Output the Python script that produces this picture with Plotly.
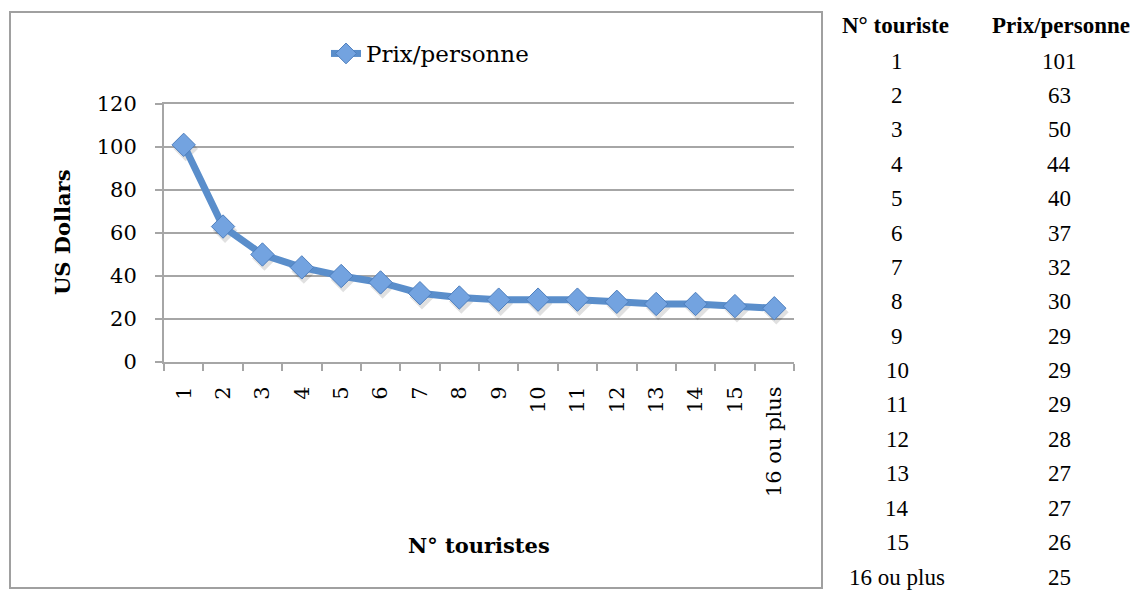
import plotly.graph_objects as go

# Tour pricing: price per person by group size
touristes = ["1", "2", "3", "4", "5", "6", "7", "8", "9", "10",
             "11", "12", "13", "14", "15", "16 ou plus"]
prix = [101, 63, 50, 44, 40, 37, 32, 30, 29, 29, 29, 28, 27, 27, 26, 25]

serie_nom = "Prix/personne"
titre_x = "N° touristes"
titre_y = "US Dollars"
entete_col1 = "N° touriste"
entete_col2 = "Prix/personne"

W, H = 1136, 590
# plot area in pixels
PX0, PX1, PY0, PY1 = 164, 794, 104, 362
Y_MAX = 120


def fx(px):
    return px / W


def fy(py):
    return 1 - py / H


LINE_BLUE = "#5A8ECB"
FILL_BLUE = "#73A3E0"
GRID = "#A6A6A6"
CHART_FONT = "DejaVu Serif"
TABLE_FONT = "Liberation Serif"

n = len(touristes)
x_range = [-0.5, n - 0.5]
y_range = [0, Y_MAX]

# shadow offset (pixels) expressed in axis units
SH_DX, SH_DY = 2, 4
dx_units = SH_DX * n / (PX1 - PX0)
dy_units = SH_DY * Y_MAX / (PY1 - PY0)

fig = go.Figure()

# invisible copy on the base axes so the main subplot (grid, ticks) exists
fig.add_trace(go.Scatter(
    x=touristes, y=prix, mode="markers", marker=dict(opacity=0),
    hoverinfo="skip", showlegend=False,
))

# soft drop shadow of the markers, on overlay axes nudged down-right
fig.add_trace(go.Scatter(
    x=touristes, y=prix, mode="markers",
    xaxis="x2", yaxis="y2",
    marker=dict(symbol="diamond", size=19, color="rgba(0,0,0,0.12)",
                line=dict(width=0)),
    hoverinfo="skip", showlegend=False,
))

# the price curve itself
fig.add_trace(go.Scatter(
    x=touristes, y=prix, mode="lines+markers", name=serie_nom,
    xaxis="x3", yaxis="y3",
    line=dict(color=LINE_BLUE, width=7),
    marker=dict(symbol="diamond", size=18, color=FILL_BLUE,
                line=dict(color="#4F7FBD", width=1)),
    hoverinfo="skip",
))

axis_common = dict(linecolor=GRID, linewidth=2)
cat_common = dict(type="category", categoryorder="array",
                  categoryarray=touristes)

fig.update_layout(
    width=W, height=H,
    margin=dict(l=0, r=0, t=0, b=0, autoexpand=False),
    paper_bgcolor="white", plot_bgcolor="white",
    font=dict(family=CHART_FONT, size=21, color="black"),
    showlegend=True,
    legend=dict(
        orientation="h", x=fx(326), y=fy(32), xanchor="left", yanchor="top",
        font=dict(family=CHART_FONT, size=23, color="black"),
        bgcolor="rgba(0,0,0,0)", itemwidth=30,
    ),
    xaxis=dict(
        domain=[fx(PX0), fx(PX1)], range=x_range, **cat_common,
        showline=True, mirror=True, showgrid=False, zeroline=False,
        ticks="outside", tickson="boundaries", ticklen=7, tickwidth=2,
        tickcolor=GRID, tickangle=-90, ticklabelstandoff=14,
        tickfont=dict(family=CHART_FONT, size=21),
        anchor="y", automargin=False, **axis_common,
    ),
    yaxis=dict(
        domain=[fy(PY1), fy(PY0)], range=y_range, dtick=20, tick0=0,
        showline=True, mirror=False, showgrid=True, gridcolor=GRID,
        gridwidth=2, zeroline=False,
        ticks="outside", ticklen=7, tickwidth=2, tickcolor=GRID,
        ticklabelstandoff=14,
        tickfont=dict(family=CHART_FONT, size=21),
        anchor="x", automargin=False, **axis_common,
    ),
    xaxis2=dict(overlaying="x", **cat_common, visible=False, anchor="y2",
                range=[x_range[0] - dx_units, x_range[1] - dx_units]),
    yaxis2=dict(overlaying="y", visible=False, anchor="x2",
                range=[y_range[0] + dy_units, y_range[1] + dy_units]),
    xaxis3=dict(overlaying="x", **cat_common, visible=False, anchor="y3",
                range=x_range),
    yaxis3=dict(overlaying="y", visible=False, anchor="x3", range=y_range),
)

# outer chart frame
fig.add_shape(type="rect", xref="paper", yref="paper",
              x0=fx(10), x1=fx(822), y0=fy(588), y1=fy(12),
              line=dict(color="#A0A0A0", width=2), fillcolor="rgba(0,0,0,0)",
              layer="below")

# axis titles
fig.add_annotation(text=f"<b>{titre_x}</b>", xref="paper", yref="paper",
                   x=fx((PX0 + PX1) / 2), y=fy(545), showarrow=False,
                   xanchor="center", yanchor="middle",
                   font=dict(family=CHART_FONT, size=21))
fig.add_annotation(text=f"<b>{titre_y}</b>", xref="paper", yref="paper",
                   x=fx(62), y=fy(232), showarrow=False, textangle=-90,
                   xanchor="center", yanchor="middle",
                   font=dict(family=CHART_FONT, size=21))

# price table beside the chart
COL1, COL2 = 897, 1059
ROW0, ROW_STEP = 61, 34.4
for txt, cx in ((entete_col1, 895), (entete_col2, 1061)):
    fig.add_annotation(text=f"<b>{txt}</b>", xref="paper", yref="paper",
                       x=fx(cx), y=fy(25), showarrow=False,
                       xanchor="center", yanchor="middle",
                       font=dict(family=TABLE_FONT, size=23))
for i, (t, p) in enumerate(zip(touristes, prix)):
    yy = fy(ROW0 + ROW_STEP * i)
    for txt, cx in ((t, COL1), (str(p), COL2)):
        fig.add_annotation(text=txt, xref="paper", yref="paper",
                           x=fx(cx), y=yy, showarrow=False,
                           xanchor="center", yanchor="middle",
                           font=dict(family=TABLE_FONT, size=23))

fig.write_html("out.html")
